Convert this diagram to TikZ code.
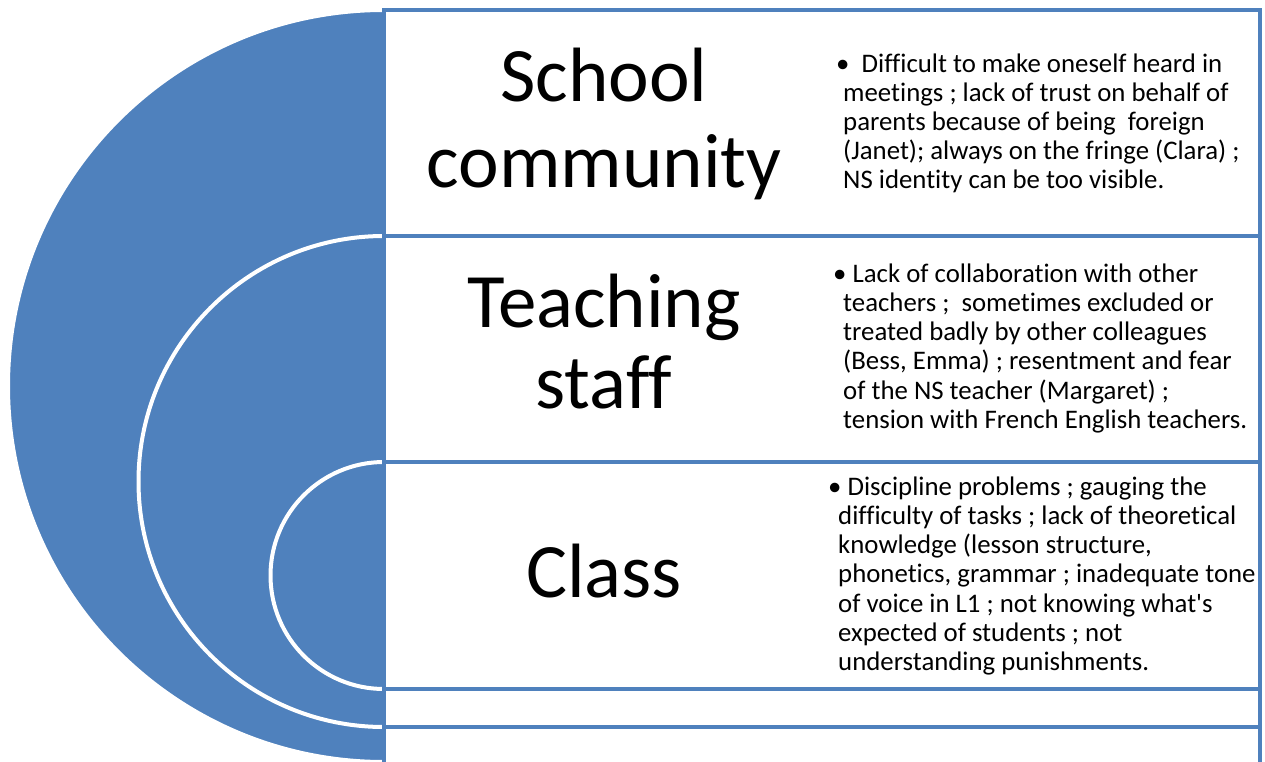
\documentclass[tikz,border=0pt]{standalone}
\usepackage{fontspec}
\setmainfont{Carlito}[Ligatures={TeXOff,CommonOff}]
\definecolor{accent}{HTML}{4F81BD}
\begin{document}
\begin{tikzpicture}[x=1pt,y=-1pt,
  disc/.style={fill=accent, draw=white, line width=4pt},
  panel/.style={fill=white, draw=accent, line width=4.5pt},
  biglabel/.style={font=\fontsize{77}{85}\selectfont, anchor=base, inner sep=0pt},
  bodytext/.style={font=\fontsize{26.8}{29.2}\selectfont, align=left, anchor=north west, inner sep=0pt}]
\useasboundingbox (0,0) rectangle (1265,762);
% nested half discs
\path[disc] (384,10) arc[start angle=270,end angle=90,radius=376] -- cycle;
\path[disc] (384,236) arc[start angle=270,end angle=90,radius=245.5] -- cycle;
\path[disc] (384,462) arc[start angle=270,end angle=90,radius=113.5] -- cycle;
% panels
\draw[panel] (384,10) rectangle (1260,768);
\draw[panel] (384,236) rectangle (1260,727);
\draw[panel] (384,462) rectangle (1260,689);
% big labels
\node[biglabel] (l1a) at (604,102) {School};
\node[biglabel] (l1b) at (604,187) {community};
\node[biglabel] (l2a) at (604,327) {Teaching};
\node[biglabel] (l2b) at (604,408) {staff};
\node[biglabel] (l3) at (604,597) {Class};
% body texts
\node[bodytext] (t1) at (843,50) {\rule{0pt}{22pt}\hspace*{-7pt}•\ \ Difficult to make oneself heard in\\
meetings ; lack of trust on behalf of\\
parents because of being\ \ foreign\\
(Janet); always on the fringe (Clara) ;\\
NS identity can be too visible.};
\node[bodytext] (t2) at (843,260) {\rule{0pt}{22pt}\hspace*{-10pt}•\ Lack of collaboration with other\\
teachers ;\ \ sometimes excluded or\\
treated badly by other colleagues\\
(Bess, Emma) ; resentment and fear\\
of the NS teacher (Margaret) ;\\
tension with French English teachers.};
\node[bodytext] (t3) at (838,473) {\rule{0pt}{22pt}\hspace*{-10pt}•\ Discipline problems ; gauging the\\
difficulty of tasks ; lack of theoretical\\
knowledge (lesson structure,\\
phonetics, grammar ; inadequate tone\\
of voice in L1 ; not knowing what's\\
expected of students ; not\\
understanding punishments.};
\end{tikzpicture}
\end{document}
